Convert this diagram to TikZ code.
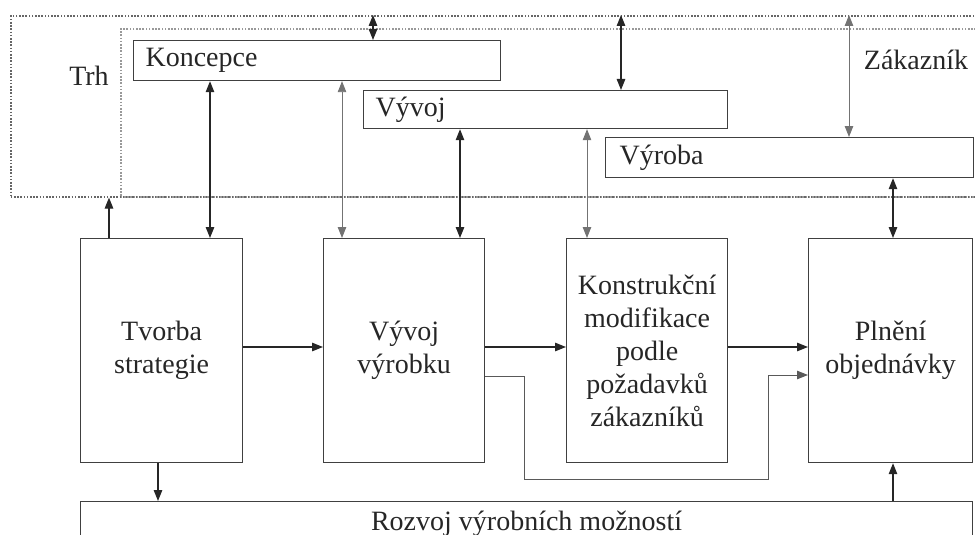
\documentclass[tikz,border=0pt]{standalone}
\usepackage{fontspec}
\setmainfont{Liberation Serif}
\usetikzlibrary{arrows.meta,calc}

\begin{document}
\begin{tikzpicture}[x=1pt,y=-1pt,
  every node/.style={font=\fontsize{28}{33}\selectfont, text=black!85},
  block/.style={draw=black!75, line width=1.2pt, anchor=north west, inner sep=0pt, align=center},
  bar/.style={draw=black!75, line width=1.2pt, anchor=north west, inner ysep=0pt, align=left},
  region/.style={draw=black!60, dash pattern=on 1.6pt off 1.6pt, line width=1.6pt, anchor=north west, inner sep=0pt},
  tip/.style={Triangle[length=11pt,width=8.5pt]},
  link/.style={draw=black!85, line width=1.2pt, -{Triangle[length=11pt,width=8.5pt]}},
  twoway/.style={link, {Triangle[length=11pt,width=8.5pt]}-{Triangle[length=11pt,width=8.5pt]}},
  lightway/.style={twoway, draw=black!55, line width=0.9pt},
  route/.style={link, draw=black!65, line width=1pt},
]
\useasboundingbox (0,0) rectangle (975,535);
\clip (0,0) rectangle (975,535);

% market and customer regions (dotted)
\node[region, minimum width=980pt, minimum height=181pt] (market) at (10,15) {};
\node[region, draw=black!40, minimum width=870pt, minimum height=168pt] (customer) at (120,28) {};
\node (trhlabel) at (89,76) {Trh};
\node (zaklabel) at (916,60) {Zákazník};

% phase bars
\node[bar, minimum height=40pt, text width=343pt, inner xsep=12pt] (concept) at (133,40) {Koncepce};
\node[bar, minimum height=38pt, text width=340pt, inner xsep=12pt] (devbar) at (363,90) {Vývoj};
\node[bar, minimum height=40pt, text width=340pt, inner xsep=14pt] (prodbar) at (605,137) {Výroba};

% process blocks
\node[block, minimum width=162pt, minimum height=224pt] (tvorba) at (80,238) {Tvorba\\strategie};
\node[block, minimum width=161pt, minimum height=224pt] (vyvojv) at (323,238) {Vývoj\\výrobku};
\node[block, minimum width=161pt, minimum height=224pt] (konstr) at (566,238) {Konstrukční\\modifikace\\podle\\požadavků\\zákazníků};
\node[block, minimum width=164pt, minimum height=224pt] (plneni) at (808,238) {Plnění\\objednávky};
\node[block, minimum width=892pt, minimum height=44pt] (rozvoj) at (80,501) {Rozvoj výrobních možností};

% links between regions and bars
\draw[twoway] (market.north -| 373,0) -- (concept.north -| 373,0);
\draw[twoway] (market.north -| 621,0) -- (devbar.north -| 621,0);
\draw[lightway] (market.north -| 849,0) -- (prodbar.north -| 849,0);
\draw[link] (tvorba.north -| 109,0) -- (market.south -| 109,0);

% links between bars and blocks
\draw[twoway] (concept.south -| 210,0) -- (tvorba.north -| 210,0);
\draw[lightway] (concept.south -| 342,0) -- (vyvojv.north -| 342,0);
\draw[twoway] (devbar.south -| 460,0) -- (vyvojv.north -| 460,0);
\draw[lightway] (devbar.south -| 587,0) -- (konstr.north -| 587,0);
\draw[twoway] (prodbar.south -| 893,0) -- (plneni.north -| 893,0);

% main flow
\draw[link] (tvorba.east |- 0,347) -- (vyvojv.west |- 0,347);
\draw[link] (vyvojv.east |- 0,347) -- (konstr.west |- 0,347);
\draw[link] (konstr.east |- 0,347) -- (plneni.west |- 0,347);
\coordinate (bendA) at (524,479);
\coordinate (bendB) at (768,375);
\draw[route] (vyvojv.east |- 0,376) -| (bendA) -| (bendB) -- (plneni.west |- bendB);

% links with the capability bar
\draw[link] (tvorba.south -| 158,0) -- (rozvoj.north -| 158,0);
\draw[link] (rozvoj.north -| 893,0) -- (plneni.south -| 893,0);
\end{tikzpicture}
\end{document}
